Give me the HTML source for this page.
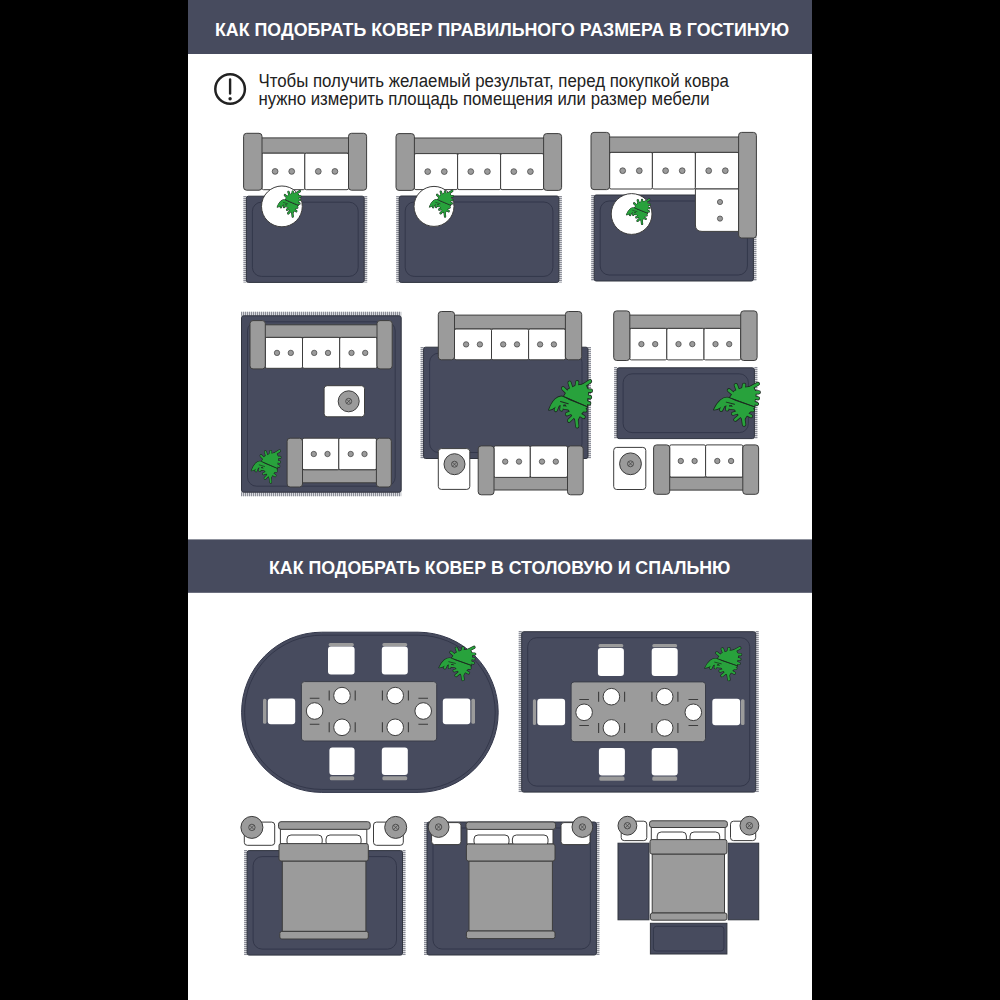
<!DOCTYPE html>
<html><head><meta charset="utf-8"><title>Ковер</title>
<style>html,body{margin:0;padding:0;background:#000;width:1000px;height:1000px;overflow:hidden;font-family:"Liberation Sans",sans-serif;} svg{display:block;}</style>
</head><body>
<svg width="1000" height="1000" viewBox="0 0 1000 1000"><rect x="0" y="0" width="1000" height="1000" fill="#000"/>
<rect x="188" y="0" width="624" height="1000" fill="#fff"/>
<rect x="188" y="0" width="624" height="54" fill="#474b5e"/>
<text x="215" y="35.6" textLength="574" lengthAdjust="spacingAndGlyphs" font-family="Liberation Sans" font-weight="bold" font-size="17.5" fill="#fff">КАК ПОДОБРАТЬ КОВЕР ПРАВИЛЬНОГО РАЗМЕРА В ГОСТИНУЮ</text>
<circle cx="230.1" cy="89" r="14.8" fill="none" stroke="#222" stroke-width="2.5"/>
<rect x="228.9" y="78.2" width="2.4" height="16.6" rx="1.2" fill="#222"/>
<circle cx="230.1" cy="98.8" r="1.7" fill="#222"/>
<text x="258.4" y="86.8" textLength="470.6" lengthAdjust="spacingAndGlyphs" font-family="Liberation Sans" font-size="17.6" fill="#222">Чтобы получить желаемый результат, перед покупкой ковра</text>
<text x="258.4" y="104.5" textLength="451.2" lengthAdjust="spacingAndGlyphs" font-family="Liberation Sans" font-size="17.6" fill="#222">нужно измерить площадь помещения или размер мебели</text>
<rect x="243.4" y="196.2" width="123.8" height="86.2" fill="#d8d9dd"/>
<path d="M244.9 196V282.4M365.7 196V282.4" stroke="#8c8e98" stroke-width="3" stroke-dasharray="1 1"/>
<rect x="246.4" y="196.2" width="117.8" height="86.2" fill="#474b5e" rx="2" stroke="#30343f" stroke-width="1"/>
<rect x="252.4" y="202.2" width="105.8" height="74.2" fill="none" rx="9" stroke="#33374a" stroke-width="1"/>
<rect x="261.0" y="137.9" width="88.5" height="15.3" fill="#9b9b9b" stroke="#3d3d3d" stroke-width="1"/>
<rect x="262.0" y="153.2" width="42.8" height="36.5" fill="#ffffff" rx="1.5" stroke="#3d3d3d" stroke-width="1"/>
<circle cx="275.1" cy="171.4" r="2.9" fill="#9b9b9b" stroke="#3d3d3d" stroke-width="0.7"/>
<circle cx="291.7" cy="171.4" r="2.9" fill="#9b9b9b" stroke="#3d3d3d" stroke-width="0.7"/>
<rect x="304.8" y="153.2" width="43.7" height="36.5" fill="#ffffff" rx="1.5" stroke="#3d3d3d" stroke-width="1"/>
<circle cx="318.3" cy="171.4" r="2.9" fill="#9b9b9b" stroke="#3d3d3d" stroke-width="0.7"/>
<circle cx="334.9" cy="171.4" r="2.9" fill="#9b9b9b" stroke="#3d3d3d" stroke-width="0.7"/>
<rect x="243.6" y="133.3" width="18.4" height="56.9" fill="#9b9b9b" rx="3" stroke="#3d3d3d" stroke-width="1"/>
<rect x="348.5" y="133.3" width="18.1" height="56.9" fill="#9b9b9b" rx="3" stroke="#3d3d3d" stroke-width="1"/>
<circle cx="281.9" cy="206.4" r="20.4" fill="#ffffff" stroke="#3d3d3d" stroke-width="1"/>
<g transform="translate(276.8,190.6) scale(0.238,0.264)"><g stroke-linecap="round" stroke-linejoin="round"><path d="M46 28 L34 17 M55 22 L49 5 M65 17 L67 4 M78 13 L97 2 M84 22 L99 22 M82 33 L97 36 M80 44 L95 49 M22 52 L17 63 M32 49 L30 62 M52 60 L36 58 M55 68 L43 72 M58 77 L48 86 M70 62 L86 64 M69 71 L82 78 M64 76 L67 98" stroke="#1c2b20" stroke-width="9.5" fill="none"/><path d="M36 34 L46 19 L64 11 L86 8 L93 22 L90 44 L90 55 Z" fill="#1c2b20" stroke="#1c2b20" stroke-width="3.5"/><path d="M46 41 Q30 28 16 40 Q7 48 1 63 Q10 62 18 56 Q32 50 48 51 Z" fill="#1c2b20" stroke="#1c2b20" stroke-width="3.5"/><path d="M38 38 L90 57 L76 72 L66 88 L54 74 L40 52 Z" fill="#1c2b20" stroke="#1c2b20" stroke-width="3.5"/><path d="M46 28 L34 17 M55 22 L49 5 M65 17 L67 4 M78 13 L97 2 M84 22 L99 22 M82 33 L97 36 M80 44 L95 49 M22 52 L17 63 M32 49 L30 62 M52 60 L36 58 M55 68 L43 72 M58 77 L48 86 M70 62 L86 64 M69 71 L82 78 M64 76 L67 98" stroke="#28a23c" stroke-width="6" fill="none"/><path d="M36 34 L46 19 L64 11 L86 8 L93 22 L90 44 L90 55 Z" fill="#28a23c"/><path d="M46 41 Q30 28 16 40 Q7 48 1 63 Q10 62 18 56 Q32 50 48 51 Z" fill="#28a23c"/><path d="M38 38 L90 57 L76 72 L66 88 L54 74 L40 52 Z" fill="#28a23c"/><path d="M36 35 L90 56 M28 45 L46 50" stroke="#1c2b20" stroke-width="2.2" fill="none"/></g></g>
<rect x="396.2" y="196.0" width="165.7" height="86.4" fill="#d8d9dd"/>
<path d="M397.7 196V282.4M560.4 196V282.4" stroke="#8c8e98" stroke-width="3" stroke-dasharray="1 1"/>
<rect x="399.2" y="196.0" width="159.7" height="86.4" fill="#474b5e" rx="2" stroke="#30343f" stroke-width="1"/>
<rect x="405.2" y="202.0" width="147.7" height="74.4" fill="none" rx="9" stroke="#33374a" stroke-width="1"/>
<rect x="413.4" y="138.0" width="131.2" height="15.6" fill="#9b9b9b" stroke="#3d3d3d" stroke-width="1"/>
<rect x="414.4" y="153.6" width="43.2" height="36.0" fill="#ffffff" rx="1.5" stroke="#3d3d3d" stroke-width="1"/>
<circle cx="427.7" cy="171.6" r="2.9" fill="#9b9b9b" stroke="#3d3d3d" stroke-width="0.7"/>
<circle cx="444.3" cy="171.6" r="2.9" fill="#9b9b9b" stroke="#3d3d3d" stroke-width="0.7"/>
<rect x="457.6" y="153.6" width="43.0" height="36.0" fill="#ffffff" rx="1.5" stroke="#3d3d3d" stroke-width="1"/>
<circle cx="470.8" cy="171.6" r="2.9" fill="#9b9b9b" stroke="#3d3d3d" stroke-width="0.7"/>
<circle cx="487.4" cy="171.6" r="2.9" fill="#9b9b9b" stroke="#3d3d3d" stroke-width="0.7"/>
<rect x="500.6" y="153.6" width="43.0" height="36.0" fill="#ffffff" rx="1.5" stroke="#3d3d3d" stroke-width="1"/>
<circle cx="513.8" cy="171.6" r="2.9" fill="#9b9b9b" stroke="#3d3d3d" stroke-width="0.7"/>
<circle cx="530.4" cy="171.6" r="2.9" fill="#9b9b9b" stroke="#3d3d3d" stroke-width="0.7"/>
<rect x="396.0" y="133.6" width="18.4" height="56.8" fill="#9b9b9b" rx="3" stroke="#3d3d3d" stroke-width="1"/>
<rect x="543.6" y="133.6" width="18.0" height="56.8" fill="#9b9b9b" rx="3" stroke="#3d3d3d" stroke-width="1"/>
<circle cx="434.0" cy="206.4" r="20.0" fill="#ffffff" stroke="#3d3d3d" stroke-width="1"/>
<g transform="translate(429.0,190.4) scale(0.240,0.266)"><g stroke-linecap="round" stroke-linejoin="round"><path d="M46 28 L34 17 M55 22 L49 5 M65 17 L67 4 M78 13 L97 2 M84 22 L99 22 M82 33 L97 36 M80 44 L95 49 M22 52 L17 63 M32 49 L30 62 M52 60 L36 58 M55 68 L43 72 M58 77 L48 86 M70 62 L86 64 M69 71 L82 78 M64 76 L67 98" stroke="#1c2b20" stroke-width="9.5" fill="none"/><path d="M36 34 L46 19 L64 11 L86 8 L93 22 L90 44 L90 55 Z" fill="#1c2b20" stroke="#1c2b20" stroke-width="3.5"/><path d="M46 41 Q30 28 16 40 Q7 48 1 63 Q10 62 18 56 Q32 50 48 51 Z" fill="#1c2b20" stroke="#1c2b20" stroke-width="3.5"/><path d="M38 38 L90 57 L76 72 L66 88 L54 74 L40 52 Z" fill="#1c2b20" stroke="#1c2b20" stroke-width="3.5"/><path d="M46 28 L34 17 M55 22 L49 5 M65 17 L67 4 M78 13 L97 2 M84 22 L99 22 M82 33 L97 36 M80 44 L95 49 M22 52 L17 63 M32 49 L30 62 M52 60 L36 58 M55 68 L43 72 M58 77 L48 86 M70 62 L86 64 M69 71 L82 78 M64 76 L67 98" stroke="#28a23c" stroke-width="6" fill="none"/><path d="M36 34 L46 19 L64 11 L86 8 L93 22 L90 44 L90 55 Z" fill="#28a23c"/><path d="M46 41 Q30 28 16 40 Q7 48 1 63 Q10 62 18 56 Q32 50 48 51 Z" fill="#28a23c"/><path d="M38 38 L90 57 L76 72 L66 88 L54 74 L40 52 Z" fill="#28a23c"/><path d="M36 35 L90 56 M28 45 L46 50" stroke="#1c2b20" stroke-width="2.2" fill="none"/></g></g>
<rect x="591.2" y="195.0" width="165.2" height="86.0" fill="#d8d9dd"/>
<path d="M592.7 195V281.0M754.9 195V281.0" stroke="#8c8e98" stroke-width="3" stroke-dasharray="1 1"/>
<rect x="594.2" y="195.0" width="159.2" height="86.0" fill="#474b5e" rx="2" stroke="#30343f" stroke-width="1"/>
<rect x="600.2" y="201.0" width="147.2" height="74.0" fill="none" rx="9" stroke="#33374a" stroke-width="1"/>
<rect x="608.6" y="137.0" width="131.0" height="15.4" fill="#9b9b9b" stroke="#3d3d3d" stroke-width="1"/>
<rect x="609.6" y="152.4" width="42.8" height="36.6" fill="#ffffff" rx="1.5" stroke="#3d3d3d" stroke-width="1"/>
<circle cx="622.7" cy="170.7" r="2.9" fill="#9b9b9b" stroke="#3d3d3d" stroke-width="0.7"/>
<circle cx="639.3" cy="170.7" r="2.9" fill="#9b9b9b" stroke="#3d3d3d" stroke-width="0.7"/>
<rect x="652.4" y="152.4" width="43.0" height="36.6" fill="#ffffff" rx="1.5" stroke="#3d3d3d" stroke-width="1"/>
<circle cx="665.6" cy="170.7" r="2.9" fill="#9b9b9b" stroke="#3d3d3d" stroke-width="0.7"/>
<circle cx="682.2" cy="170.7" r="2.9" fill="#9b9b9b" stroke="#3d3d3d" stroke-width="0.7"/>
<rect x="695.4" y="152.4" width="43.2" height="36.6" fill="#ffffff" rx="1.5" stroke="#3d3d3d" stroke-width="1"/>
<circle cx="708.7" cy="170.7" r="2.9" fill="#9b9b9b" stroke="#3d3d3d" stroke-width="0.7"/>
<circle cx="725.3" cy="170.7" r="2.9" fill="#9b9b9b" stroke="#3d3d3d" stroke-width="0.7"/>
<path d="M695.4 189 H738.6 V231.4 H702 Q695.4 231.4 695.4 225 Z" fill="#fff" stroke="#3d3d3d" stroke-width="1"/>
<circle cx="720.0" cy="202.0" r="2.6" fill="#9b9b9b" stroke="#3d3d3d" stroke-width="0.7"/>
<circle cx="720.0" cy="218.6" r="2.6" fill="#9b9b9b" stroke="#3d3d3d" stroke-width="0.7"/>
<rect x="591.0" y="132.4" width="18.6" height="57.2" fill="#9b9b9b" rx="3" stroke="#3d3d3d" stroke-width="1"/>
<rect x="738.6" y="132.4" width="17.8" height="105.6" fill="#9b9b9b" rx="3" stroke="#3d3d3d" stroke-width="1"/>
<circle cx="631.6" cy="214.0" r="20.4" fill="#ffffff" stroke="#3d3d3d" stroke-width="1"/>
<g transform="translate(626.0,199.0) scale(0.240,0.254)"><g stroke-linecap="round" stroke-linejoin="round"><path d="M46 28 L34 17 M55 22 L49 5 M65 17 L67 4 M78 13 L97 2 M84 22 L99 22 M82 33 L97 36 M80 44 L95 49 M22 52 L17 63 M32 49 L30 62 M52 60 L36 58 M55 68 L43 72 M58 77 L48 86 M70 62 L86 64 M69 71 L82 78 M64 76 L67 98" stroke="#1c2b20" stroke-width="9.5" fill="none"/><path d="M36 34 L46 19 L64 11 L86 8 L93 22 L90 44 L90 55 Z" fill="#1c2b20" stroke="#1c2b20" stroke-width="3.5"/><path d="M46 41 Q30 28 16 40 Q7 48 1 63 Q10 62 18 56 Q32 50 48 51 Z" fill="#1c2b20" stroke="#1c2b20" stroke-width="3.5"/><path d="M38 38 L90 57 L76 72 L66 88 L54 74 L40 52 Z" fill="#1c2b20" stroke="#1c2b20" stroke-width="3.5"/><path d="M46 28 L34 17 M55 22 L49 5 M65 17 L67 4 M78 13 L97 2 M84 22 L99 22 M82 33 L97 36 M80 44 L95 49 M22 52 L17 63 M32 49 L30 62 M52 60 L36 58 M55 68 L43 72 M58 77 L48 86 M70 62 L86 64 M69 71 L82 78 M64 76 L67 98" stroke="#28a23c" stroke-width="6" fill="none"/><path d="M36 34 L46 19 L64 11 L86 8 L93 22 L90 44 L90 55 Z" fill="#28a23c"/><path d="M46 41 Q30 28 16 40 Q7 48 1 63 Q10 62 18 56 Q32 50 48 51 Z" fill="#28a23c"/><path d="M38 38 L90 57 L76 72 L66 88 L54 74 L40 52 Z" fill="#28a23c"/><path d="M36 35 L90 56 M28 45 L46 50" stroke="#1c2b20" stroke-width="2.2" fill="none"/></g></g>
<rect x="241.5" y="311.8" width="159.7" height="184.4" fill="#d8d9dd"/>
<path d="M241 313.8H401.2M241 494.2H401.2" stroke="#8c8e98" stroke-width="4" stroke-dasharray="1 1"/>
<rect x="241.5" y="315.8" width="159.7" height="176.4" fill="#474b5e" rx="2" stroke="#30343f" stroke-width="1"/>
<rect x="247.5" y="321.8" width="147.7" height="164.4" fill="none" rx="9" stroke="#33374a" stroke-width="1"/>
<rect x="264.3" y="324.8" width="113.7" height="12.6" fill="#9b9b9b" stroke="#3d3d3d" stroke-width="1"/>
<rect x="265.3" y="337.4" width="37.2" height="30.9" fill="#ffffff" rx="1.5" stroke="#3d3d3d" stroke-width="1"/>
<circle cx="277.0" cy="352.9" r="2.7" fill="#9b9b9b" stroke="#3d3d3d" stroke-width="0.7"/>
<circle cx="290.8" cy="352.9" r="2.7" fill="#9b9b9b" stroke="#3d3d3d" stroke-width="0.7"/>
<rect x="302.5" y="337.4" width="37.2" height="30.9" fill="#ffffff" rx="1.5" stroke="#3d3d3d" stroke-width="1"/>
<circle cx="314.2" cy="352.9" r="2.7" fill="#9b9b9b" stroke="#3d3d3d" stroke-width="0.7"/>
<circle cx="328.0" cy="352.9" r="2.7" fill="#9b9b9b" stroke="#3d3d3d" stroke-width="0.7"/>
<rect x="339.7" y="337.4" width="37.3" height="30.9" fill="#ffffff" rx="1.5" stroke="#3d3d3d" stroke-width="1"/>
<circle cx="351.5" cy="352.9" r="2.7" fill="#9b9b9b" stroke="#3d3d3d" stroke-width="0.7"/>
<circle cx="365.2" cy="352.9" r="2.7" fill="#9b9b9b" stroke="#3d3d3d" stroke-width="0.7"/>
<rect x="250.0" y="320.6" width="15.3" height="48.3" fill="#9b9b9b" rx="3" stroke="#3d3d3d" stroke-width="1"/>
<rect x="377.0" y="320.6" width="15.2" height="48.3" fill="#9b9b9b" rx="3" stroke="#3d3d3d" stroke-width="1"/>
<rect x="301.5" y="469.7" width="76.0" height="13.1" fill="#9b9b9b" stroke="#3d3d3d" stroke-width="1"/>
<rect x="302.5" y="438.2" width="36.3" height="31.5" fill="#ffffff" rx="1.5" stroke="#3d3d3d" stroke-width="1"/>
<circle cx="313.8" cy="454.0" r="2.7" fill="#9b9b9b" stroke="#3d3d3d" stroke-width="0.7"/>
<circle cx="327.5" cy="454.0" r="2.7" fill="#9b9b9b" stroke="#3d3d3d" stroke-width="0.7"/>
<rect x="338.8" y="438.2" width="37.6" height="31.5" fill="#ffffff" rx="1.5" stroke="#3d3d3d" stroke-width="1"/>
<circle cx="350.7" cy="454.0" r="2.7" fill="#9b9b9b" stroke="#3d3d3d" stroke-width="0.7"/>
<circle cx="364.5" cy="454.0" r="2.7" fill="#9b9b9b" stroke="#3d3d3d" stroke-width="0.7"/>
<rect x="287.1" y="438.2" width="15.4" height="48.8" fill="#9b9b9b" rx="3" stroke="#3d3d3d" stroke-width="1"/>
<rect x="376.4" y="438.2" width="14.9" height="48.8" fill="#9b9b9b" rx="3" stroke="#3d3d3d" stroke-width="1"/>
<rect x="324.1" y="385.7" width="40.4" height="31.1" fill="#ffffff" rx="3" stroke="#3d3d3d" stroke-width="1"/>
<circle cx="348.7" cy="401.3" r="10.5" fill="#9b9b9b" stroke="#3d3d3d" stroke-width="1"/>
<circle cx="348.7" cy="401.3" r="3.0" fill="none" stroke="#3d3d3d" stroke-width="0.8"/>
<path d="M346.7 399.3L350.7 403.3M350.7 399.3L346.7 403.3" stroke="#3d3d3d" stroke-width="0.7"/>
<g transform="translate(251.0,450.2) scale(0.294,0.326)"><g stroke-linecap="round" stroke-linejoin="round"><path d="M46 28 L34 17 M55 22 L49 5 M65 17 L67 4 M78 13 L97 2 M84 22 L99 22 M82 33 L97 36 M80 44 L95 49 M22 52 L17 63 M32 49 L30 62 M52 60 L36 58 M55 68 L43 72 M58 77 L48 86 M70 62 L86 64 M69 71 L82 78 M64 76 L67 98" stroke="#1c2b20" stroke-width="9.5" fill="none"/><path d="M36 34 L46 19 L64 11 L86 8 L93 22 L90 44 L90 55 Z" fill="#1c2b20" stroke="#1c2b20" stroke-width="3.5"/><path d="M46 41 Q30 28 16 40 Q7 48 1 63 Q10 62 18 56 Q32 50 48 51 Z" fill="#1c2b20" stroke="#1c2b20" stroke-width="3.5"/><path d="M38 38 L90 57 L76 72 L66 88 L54 74 L40 52 Z" fill="#1c2b20" stroke="#1c2b20" stroke-width="3.5"/><path d="M46 28 L34 17 M55 22 L49 5 M65 17 L67 4 M78 13 L97 2 M84 22 L99 22 M82 33 L97 36 M80 44 L95 49 M22 52 L17 63 M32 49 L30 62 M52 60 L36 58 M55 68 L43 72 M58 77 L48 86 M70 62 L86 64 M69 71 L82 78 M64 76 L67 98" stroke="#28a23c" stroke-width="6" fill="none"/><path d="M36 34 L46 19 L64 11 L86 8 L93 22 L90 44 L90 55 Z" fill="#28a23c"/><path d="M46 41 Q30 28 16 40 Q7 48 1 63 Q10 62 18 56 Q32 50 48 51 Z" fill="#28a23c"/><path d="M38 38 L90 57 L76 72 L66 88 L54 74 L40 52 Z" fill="#28a23c"/><path d="M36 35 L90 56 M28 45 L46 50" stroke="#1c2b20" stroke-width="2.2" fill="none"/></g></g>
<rect x="420.6" y="347.2" width="170.4" height="111.3" fill="#d8d9dd"/>
<path d="M422.1 347V458.5M589.5 347V458.5" stroke="#8c8e98" stroke-width="3" stroke-dasharray="1 1"/>
<rect x="423.6" y="347.2" width="164.4" height="111.3" fill="#474b5e" rx="2" stroke="#30343f" stroke-width="1"/>
<rect x="429.6" y="353.2" width="152.4" height="99.3" fill="none" rx="9" stroke="#33374a" stroke-width="1"/>
<rect x="453.5" y="315.1" width="112.9" height="13.9" fill="#9b9b9b" stroke="#3d3d3d" stroke-width="1"/>
<rect x="454.5" y="329.0" width="37.0" height="30.8" fill="#ffffff" rx="1.5" stroke="#3d3d3d" stroke-width="1"/>
<circle cx="466.1" cy="344.4" r="2.7" fill="#9b9b9b" stroke="#3d3d3d" stroke-width="0.7"/>
<circle cx="479.9" cy="344.4" r="2.7" fill="#9b9b9b" stroke="#3d3d3d" stroke-width="0.7"/>
<rect x="491.5" y="329.0" width="37.1" height="30.8" fill="#ffffff" rx="1.5" stroke="#3d3d3d" stroke-width="1"/>
<circle cx="503.2" cy="344.4" r="2.7" fill="#9b9b9b" stroke="#3d3d3d" stroke-width="0.7"/>
<circle cx="517.0" cy="344.4" r="2.7" fill="#9b9b9b" stroke="#3d3d3d" stroke-width="0.7"/>
<rect x="528.6" y="329.0" width="36.8" height="30.8" fill="#ffffff" rx="1.5" stroke="#3d3d3d" stroke-width="1"/>
<circle cx="540.1" cy="344.4" r="2.7" fill="#9b9b9b" stroke="#3d3d3d" stroke-width="0.7"/>
<circle cx="553.9" cy="344.4" r="2.7" fill="#9b9b9b" stroke="#3d3d3d" stroke-width="0.7"/>
<rect x="438.3" y="311.5" width="16.2" height="48.3" fill="#9b9b9b" rx="3" stroke="#3d3d3d" stroke-width="1"/>
<rect x="565.4" y="311.5" width="16.3" height="48.3" fill="#9b9b9b" rx="3" stroke="#3d3d3d" stroke-width="1"/>
<rect x="493.0" y="477.4" width="75.5" height="12.6" fill="#9b9b9b" stroke="#3d3d3d" stroke-width="1"/>
<rect x="494.0" y="445.9" width="36.3" height="31.5" fill="#ffffff" rx="1.5" stroke="#3d3d3d" stroke-width="1"/>
<circle cx="505.2" cy="461.6" r="2.7" fill="#9b9b9b" stroke="#3d3d3d" stroke-width="0.7"/>
<circle cx="519.0" cy="461.6" r="2.7" fill="#9b9b9b" stroke="#3d3d3d" stroke-width="0.7"/>
<rect x="530.3" y="445.9" width="37.2" height="31.5" fill="#ffffff" rx="1.5" stroke="#3d3d3d" stroke-width="1"/>
<circle cx="542.0" cy="461.6" r="2.7" fill="#9b9b9b" stroke="#3d3d3d" stroke-width="0.7"/>
<circle cx="555.8" cy="461.6" r="2.7" fill="#9b9b9b" stroke="#3d3d3d" stroke-width="0.7"/>
<rect x="478.2" y="445.9" width="15.8" height="48.9" fill="#9b9b9b" rx="3" stroke="#3d3d3d" stroke-width="1"/>
<rect x="567.5" y="445.9" width="15.7" height="48.9" fill="#9b9b9b" rx="3" stroke="#3d3d3d" stroke-width="1"/>
<rect x="438.3" y="448.6" width="31.5" height="40.8" fill="#ffffff" rx="3" stroke="#3d3d3d" stroke-width="1"/>
<circle cx="454.5" cy="464.2" r="10.5" fill="#9b9b9b" stroke="#3d3d3d" stroke-width="1"/>
<circle cx="454.5" cy="464.2" r="3.0" fill="none" stroke="#3d3d3d" stroke-width="0.8"/>
<path d="M452.5 462.2L456.5 466.2M456.5 462.2L452.5 466.2" stroke="#3d3d3d" stroke-width="0.7"/>
<g transform="translate(548.5,380.4) scale(0.429,0.468)"><g stroke-linecap="round" stroke-linejoin="round"><path d="M46 28 L34 17 M55 22 L49 5 M65 17 L67 4 M78 13 L97 2 M84 22 L99 22 M82 33 L97 36 M80 44 L95 49 M22 52 L17 63 M32 49 L30 62 M52 60 L36 58 M55 68 L43 72 M58 77 L48 86 M70 62 L86 64 M69 71 L82 78 M64 76 L67 98" stroke="#1c2b20" stroke-width="9.5" fill="none"/><path d="M36 34 L46 19 L64 11 L86 8 L93 22 L90 44 L90 55 Z" fill="#1c2b20" stroke="#1c2b20" stroke-width="3.5"/><path d="M46 41 Q30 28 16 40 Q7 48 1 63 Q10 62 18 56 Q32 50 48 51 Z" fill="#1c2b20" stroke="#1c2b20" stroke-width="3.5"/><path d="M38 38 L90 57 L76 72 L66 88 L54 74 L40 52 Z" fill="#1c2b20" stroke="#1c2b20" stroke-width="3.5"/><path d="M46 28 L34 17 M55 22 L49 5 M65 17 L67 4 M78 13 L97 2 M84 22 L99 22 M82 33 L97 36 M80 44 L95 49 M22 52 L17 63 M32 49 L30 62 M52 60 L36 58 M55 68 L43 72 M58 77 L48 86 M70 62 L86 64 M69 71 L82 78 M64 76 L67 98" stroke="#28a23c" stroke-width="6" fill="none"/><path d="M36 34 L46 19 L64 11 L86 8 L93 22 L90 44 L90 55 Z" fill="#28a23c"/><path d="M46 41 Q30 28 16 40 Q7 48 1 63 Q10 62 18 56 Q32 50 48 51 Z" fill="#28a23c"/><path d="M38 38 L90 57 L76 72 L66 88 L54 74 L40 52 Z" fill="#28a23c"/><path d="M36 35 L90 56 M28 45 L46 50" stroke="#1c2b20" stroke-width="2.2" fill="none"/></g></g>
<rect x="614.1" y="367.8" width="143.3" height="70.8" fill="#d8d9dd"/>
<path d="M615.6 367V438.6M755.9 367V438.6" stroke="#8c8e98" stroke-width="3" stroke-dasharray="1 1"/>
<rect x="617.1" y="367.8" width="137.3" height="70.8" fill="#474b5e" rx="2" stroke="#30343f" stroke-width="1"/>
<rect x="623.1" y="373.8" width="125.3" height="58.8" fill="none" rx="9" stroke="#33374a" stroke-width="1"/>
<rect x="628.8" y="315.1" width="112.9" height="13.3" fill="#9b9b9b" stroke="#3d3d3d" stroke-width="1"/>
<rect x="629.8" y="328.4" width="37.0" height="31.5" fill="#ffffff" rx="1.5" stroke="#3d3d3d" stroke-width="1"/>
<circle cx="641.4" cy="344.1" r="2.7" fill="#9b9b9b" stroke="#3d3d3d" stroke-width="0.7"/>
<circle cx="655.2" cy="344.1" r="2.7" fill="#9b9b9b" stroke="#3d3d3d" stroke-width="0.7"/>
<rect x="666.8" y="328.4" width="37.2" height="31.5" fill="#ffffff" rx="1.5" stroke="#3d3d3d" stroke-width="1"/>
<circle cx="678.5" cy="344.1" r="2.7" fill="#9b9b9b" stroke="#3d3d3d" stroke-width="0.7"/>
<circle cx="692.3" cy="344.1" r="2.7" fill="#9b9b9b" stroke="#3d3d3d" stroke-width="0.7"/>
<rect x="704.0" y="328.4" width="36.7" height="31.5" fill="#ffffff" rx="1.5" stroke="#3d3d3d" stroke-width="1"/>
<circle cx="715.5" cy="344.1" r="2.7" fill="#9b9b9b" stroke="#3d3d3d" stroke-width="0.7"/>
<circle cx="729.2" cy="344.1" r="2.7" fill="#9b9b9b" stroke="#3d3d3d" stroke-width="0.7"/>
<rect x="613.7" y="310.9" width="16.1" height="49.6" fill="#9b9b9b" rx="3" stroke="#3d3d3d" stroke-width="1"/>
<rect x="740.7" y="310.9" width="16.4" height="49.6" fill="#9b9b9b" rx="3" stroke="#3d3d3d" stroke-width="1"/>
<rect x="668.7" y="477.1" width="75.1" height="13.0" fill="#9b9b9b" stroke="#3d3d3d" stroke-width="1"/>
<rect x="669.7" y="444.9" width="35.9" height="32.2" fill="#ffffff" rx="1.5" stroke="#3d3d3d" stroke-width="1"/>
<circle cx="680.8" cy="461.0" r="2.7" fill="#9b9b9b" stroke="#3d3d3d" stroke-width="0.7"/>
<circle cx="694.6" cy="461.0" r="2.7" fill="#9b9b9b" stroke="#3d3d3d" stroke-width="0.7"/>
<rect x="705.6" y="444.9" width="37.2" height="32.2" fill="#ffffff" rx="1.5" stroke="#3d3d3d" stroke-width="1"/>
<circle cx="717.3" cy="461.0" r="2.7" fill="#9b9b9b" stroke="#3d3d3d" stroke-width="0.7"/>
<circle cx="731.1" cy="461.0" r="2.7" fill="#9b9b9b" stroke="#3d3d3d" stroke-width="0.7"/>
<rect x="653.6" y="444.9" width="16.1" height="49.4" fill="#9b9b9b" rx="3" stroke="#3d3d3d" stroke-width="1"/>
<rect x="742.8" y="444.9" width="15.8" height="49.4" fill="#9b9b9b" rx="3" stroke="#3d3d3d" stroke-width="1"/>
<rect x="613.7" y="447.4" width="32.1" height="42.1" fill="#ffffff" rx="3" stroke="#3d3d3d" stroke-width="1"/>
<circle cx="630.5" cy="463.8" r="10.9" fill="#9b9b9b" stroke="#3d3d3d" stroke-width="1"/>
<circle cx="630.5" cy="463.8" r="3.0" fill="none" stroke="#3d3d3d" stroke-width="0.8"/>
<path d="M628.5 461.8L632.5 465.8M632.5 461.8L628.5 465.8" stroke="#3d3d3d" stroke-width="0.7"/>
<g transform="translate(713.4,383.0) scale(0.458,0.426)"><g stroke-linecap="round" stroke-linejoin="round"><path d="M46 28 L34 17 M55 22 L49 5 M65 17 L67 4 M78 13 L97 2 M84 22 L99 22 M82 33 L97 36 M80 44 L95 49 M22 52 L17 63 M32 49 L30 62 M52 60 L36 58 M55 68 L43 72 M58 77 L48 86 M70 62 L86 64 M69 71 L82 78 M64 76 L67 98" stroke="#1c2b20" stroke-width="9.5" fill="none"/><path d="M36 34 L46 19 L64 11 L86 8 L93 22 L90 44 L90 55 Z" fill="#1c2b20" stroke="#1c2b20" stroke-width="3.5"/><path d="M46 41 Q30 28 16 40 Q7 48 1 63 Q10 62 18 56 Q32 50 48 51 Z" fill="#1c2b20" stroke="#1c2b20" stroke-width="3.5"/><path d="M38 38 L90 57 L76 72 L66 88 L54 74 L40 52 Z" fill="#1c2b20" stroke="#1c2b20" stroke-width="3.5"/><path d="M46 28 L34 17 M55 22 L49 5 M65 17 L67 4 M78 13 L97 2 M84 22 L99 22 M82 33 L97 36 M80 44 L95 49 M22 52 L17 63 M32 49 L30 62 M52 60 L36 58 M55 68 L43 72 M58 77 L48 86 M70 62 L86 64 M69 71 L82 78 M64 76 L67 98" stroke="#28a23c" stroke-width="6" fill="none"/><path d="M36 34 L46 19 L64 11 L86 8 L93 22 L90 44 L90 55 Z" fill="#28a23c"/><path d="M46 41 Q30 28 16 40 Q7 48 1 63 Q10 62 18 56 Q32 50 48 51 Z" fill="#28a23c"/><path d="M38 38 L90 57 L76 72 L66 88 L54 74 L40 52 Z" fill="#28a23c"/><path d="M36 35 L90 56 M28 45 L46 50" stroke="#1c2b20" stroke-width="2.2" fill="none"/></g></g>
<rect x="188" y="539.4" width="624" height="53.4" fill="#474b5e"/>
<text x="269" y="573.6" textLength="461.4" lengthAdjust="spacingAndGlyphs" font-family="Liberation Sans" font-weight="bold" font-size="17.5" fill="#fff">КАК ПОДОБРАТЬ КОВЕР В СТОЛОВУЮ И СПАЛЬНЮ</text>
<rect x="241.6" y="632.2" width="256.6" height="160.2" rx="80.1" fill="#474b5e" stroke="#33374a" stroke-width="1"/>
<rect x="244.6" y="635.2" width="250.6" height="154.2" rx="77.1" fill="none" stroke="#33374a" stroke-width="1"/>
<rect x="328.6" y="643.0" width="25.2" height="3.2" fill="#9b9b9b" rx="1.5"/>
<rect x="328.0" y="646.6" width="26.6" height="28.0" fill="#ffffff" rx="3"/>
<rect x="382.4" y="643.0" width="24.8" height="3.2" fill="#9b9b9b" rx="1.5"/>
<rect x="381.8" y="646.6" width="26.0" height="28.0" fill="#ffffff" rx="3"/>
<rect x="329.8" y="776.3" width="24.4" height="3.9" fill="#9b9b9b" rx="1.5"/>
<rect x="329.4" y="747.4" width="25.2" height="27.5" fill="#ffffff" rx="3"/>
<rect x="382.4" y="776.3" width="24.8" height="3.9" fill="#9b9b9b" rx="1.5"/>
<rect x="381.8" y="747.4" width="26.0" height="27.5" fill="#ffffff" rx="3"/>
<rect x="263.0" y="698.8" width="3.4" height="25.0" fill="#9b9b9b" rx="1.5"/>
<rect x="267.8" y="698.4" width="27.4" height="25.8" fill="#ffffff" rx="3"/>
<rect x="471.4" y="698.8" width="3.6" height="25.0" fill="#9b9b9b" rx="1.5"/>
<rect x="442.8" y="698.4" width="27.5" height="25.8" fill="#ffffff" rx="3"/>
<rect x="301.4" y="681.6" width="135.3" height="59.4" fill="#9b9b9b" rx="3" stroke="#3a3d48" stroke-width="1"/>
<circle cx="342.0" cy="695.6" r="8.3" fill="#ffffff" stroke="#3d3d3d" stroke-width="1"/>
<path d="M329.2 690.6V700.6M355.2 690.6V700.6" stroke="#3d3d3d" stroke-width="1.1"/>
<circle cx="395.2" cy="695.6" r="8.3" fill="#ffffff" stroke="#3d3d3d" stroke-width="1"/>
<path d="M382.4 690.6V700.6M408.4 690.6V700.6" stroke="#3d3d3d" stroke-width="1.1"/>
<circle cx="342.0" cy="727.3" r="8.3" fill="#ffffff" stroke="#3d3d3d" stroke-width="1"/>
<path d="M329.2 722.3V732.3M355.2 722.3V732.3" stroke="#3d3d3d" stroke-width="1.1"/>
<circle cx="395.2" cy="727.3" r="8.3" fill="#ffffff" stroke="#3d3d3d" stroke-width="1"/>
<path d="M382.4 722.3V732.3M408.4 722.3V732.3" stroke="#3d3d3d" stroke-width="1.1"/>
<circle cx="314.6" cy="711.0" r="8.3" fill="#ffffff" stroke="#3d3d3d" stroke-width="1"/>
<path d="M309.8 698.2H319.4M309.8 724.2H319.4" stroke="#3d3d3d" stroke-width="1.1"/>
<circle cx="423.2" cy="711.0" r="8.3" fill="#ffffff" stroke="#3d3d3d" stroke-width="1"/>
<path d="M418.4 698.2H428.0M418.4 724.2H428.0" stroke="#3d3d3d" stroke-width="1.1"/>
<g transform="translate(438.6,646.6) scale(0.364,0.336)"><g stroke-linecap="round" stroke-linejoin="round"><path d="M46 28 L34 17 M55 22 L49 5 M65 17 L67 4 M78 13 L97 2 M84 22 L99 22 M82 33 L97 36 M80 44 L95 49 M22 52 L17 63 M32 49 L30 62 M52 60 L36 58 M55 68 L43 72 M58 77 L48 86 M70 62 L86 64 M69 71 L82 78 M64 76 L67 98" stroke="#1c2b20" stroke-width="9.5" fill="none"/><path d="M36 34 L46 19 L64 11 L86 8 L93 22 L90 44 L90 55 Z" fill="#1c2b20" stroke="#1c2b20" stroke-width="3.5"/><path d="M46 41 Q30 28 16 40 Q7 48 1 63 Q10 62 18 56 Q32 50 48 51 Z" fill="#1c2b20" stroke="#1c2b20" stroke-width="3.5"/><path d="M38 38 L90 57 L76 72 L66 88 L54 74 L40 52 Z" fill="#1c2b20" stroke="#1c2b20" stroke-width="3.5"/><path d="M46 28 L34 17 M55 22 L49 5 M65 17 L67 4 M78 13 L97 2 M84 22 L99 22 M82 33 L97 36 M80 44 L95 49 M22 52 L17 63 M32 49 L30 62 M52 60 L36 58 M55 68 L43 72 M58 77 L48 86 M70 62 L86 64 M69 71 L82 78 M64 76 L67 98" stroke="#28a23c" stroke-width="6" fill="none"/><path d="M36 34 L46 19 L64 11 L86 8 L93 22 L90 44 L90 55 Z" fill="#28a23c"/><path d="M46 41 Q30 28 16 40 Q7 48 1 63 Q10 62 18 56 Q32 50 48 51 Z" fill="#28a23c"/><path d="M38 38 L90 57 L76 72 L66 88 L54 74 L40 52 Z" fill="#28a23c"/><path d="M36 35 L90 56 M28 45 L46 50" stroke="#1c2b20" stroke-width="2.2" fill="none"/></g></g>
<rect x="518.7" y="631.7" width="240.0" height="160.4" fill="#d8d9dd"/>
<path d="M520.2 631V792.1M757.2 631V792.1" stroke="#8c8e98" stroke-width="3" stroke-dasharray="1 1"/>
<rect x="521.7" y="631.7" width="234.0" height="160.4" fill="#474b5e" rx="2" stroke="#30343f" stroke-width="1"/>
<rect x="527.7" y="637.7" width="222.0" height="148.4" fill="none" rx="9" stroke="#33374a" stroke-width="1"/>
<rect x="598.5" y="643.9" width="24.8" height="3.4" fill="#9b9b9b" rx="1.5"/>
<rect x="597.9" y="648.1" width="26.0" height="27.8" fill="#ffffff" rx="3"/>
<rect x="652.3" y="643.9" width="24.8" height="3.4" fill="#9b9b9b" rx="1.5"/>
<rect x="651.7" y="648.1" width="26.0" height="27.8" fill="#ffffff" rx="3"/>
<rect x="599.3" y="776.5" width="25.2" height="4.2" fill="#9b9b9b" rx="1.5"/>
<rect x="598.9" y="747.9" width="26.0" height="27.6" fill="#ffffff" rx="3"/>
<rect x="652.3" y="776.5" width="24.8" height="4.2" fill="#9b9b9b" rx="1.5"/>
<rect x="651.7" y="747.9" width="26.0" height="27.6" fill="#ffffff" rx="3"/>
<rect x="532.9" y="699.2" width="3.1" height="25.7" fill="#9b9b9b" rx="1.5"/>
<rect x="537.3" y="698.8" width="27.8" height="26.5" fill="#ffffff" rx="3"/>
<rect x="740.9" y="699.2" width="3.6" height="25.7" fill="#9b9b9b" rx="1.5"/>
<rect x="712.3" y="698.8" width="27.8" height="26.5" fill="#ffffff" rx="3"/>
<rect x="571.1" y="681.9" width="134.4" height="59.8" fill="#9b9b9b" rx="3" stroke="#3a3d48" stroke-width="1"/>
<circle cx="611.4" cy="696.7" r="8.3" fill="#ffffff" stroke="#3d3d3d" stroke-width="1"/>
<path d="M598.6 691.7V701.7M624.6 691.7V701.7" stroke="#3d3d3d" stroke-width="1.1"/>
<circle cx="664.7" cy="696.7" r="8.3" fill="#ffffff" stroke="#3d3d3d" stroke-width="1"/>
<path d="M651.9 691.7V701.7M677.9 691.7V701.7" stroke="#3d3d3d" stroke-width="1.1"/>
<circle cx="611.4" cy="727.9" r="8.3" fill="#ffffff" stroke="#3d3d3d" stroke-width="1"/>
<path d="M598.6 722.9V732.9M624.6 722.9V732.9" stroke="#3d3d3d" stroke-width="1.1"/>
<circle cx="664.7" cy="727.9" r="8.3" fill="#ffffff" stroke="#3d3d3d" stroke-width="1"/>
<path d="M651.9 722.9V732.9M677.9 722.9V732.9" stroke="#3d3d3d" stroke-width="1.1"/>
<circle cx="584.1" cy="712.3" r="8.3" fill="#ffffff" stroke="#3d3d3d" stroke-width="1"/>
<path d="M579.3 699.5H588.9M579.3 725.5H588.9" stroke="#3d3d3d" stroke-width="1.1"/>
<circle cx="693.3" cy="712.3" r="8.3" fill="#ffffff" stroke="#3d3d3d" stroke-width="1"/>
<path d="M688.5 699.5H698.1M688.5 725.5H698.1" stroke="#3d3d3d" stroke-width="1.1"/>
<g transform="translate(704.5,647.3) scale(0.364,0.330)"><g stroke-linecap="round" stroke-linejoin="round"><path d="M46 28 L34 17 M55 22 L49 5 M65 17 L67 4 M78 13 L97 2 M84 22 L99 22 M82 33 L97 36 M80 44 L95 49 M22 52 L17 63 M32 49 L30 62 M52 60 L36 58 M55 68 L43 72 M58 77 L48 86 M70 62 L86 64 M69 71 L82 78 M64 76 L67 98" stroke="#1c2b20" stroke-width="9.5" fill="none"/><path d="M36 34 L46 19 L64 11 L86 8 L93 22 L90 44 L90 55 Z" fill="#1c2b20" stroke="#1c2b20" stroke-width="3.5"/><path d="M46 41 Q30 28 16 40 Q7 48 1 63 Q10 62 18 56 Q32 50 48 51 Z" fill="#1c2b20" stroke="#1c2b20" stroke-width="3.5"/><path d="M38 38 L90 57 L76 72 L66 88 L54 74 L40 52 Z" fill="#1c2b20" stroke="#1c2b20" stroke-width="3.5"/><path d="M46 28 L34 17 M55 22 L49 5 M65 17 L67 4 M78 13 L97 2 M84 22 L99 22 M82 33 L97 36 M80 44 L95 49 M22 52 L17 63 M32 49 L30 62 M52 60 L36 58 M55 68 L43 72 M58 77 L48 86 M70 62 L86 64 M69 71 L82 78 M64 76 L67 98" stroke="#28a23c" stroke-width="6" fill="none"/><path d="M36 34 L46 19 L64 11 L86 8 L93 22 L90 44 L90 55 Z" fill="#28a23c"/><path d="M46 41 Q30 28 16 40 Q7 48 1 63 Q10 62 18 56 Q32 50 48 51 Z" fill="#28a23c"/><path d="M38 38 L90 57 L76 72 L66 88 L54 74 L40 52 Z" fill="#28a23c"/><path d="M36 35 L90 56 M28 45 L46 50" stroke="#1c2b20" stroke-width="2.2" fill="none"/></g></g>
<rect x="244.1" y="850.6" width="161.4" height="104.5" fill="#d8d9dd"/>
<path d="M245.6 850V955.1M404.0 850V955.1" stroke="#8c8e98" stroke-width="3" stroke-dasharray="1 1"/>
<rect x="247.1" y="850.6" width="155.4" height="104.5" fill="#474b5e" rx="2" stroke="#30343f" stroke-width="1"/>
<rect x="253.1" y="856.6" width="143.4" height="92.5" fill="none" rx="9" stroke="#33374a" stroke-width="1"/>
<rect x="244.3" y="822.1" width="30.4" height="23.2" fill="#ffffff" rx="3" stroke="#3d3d3d" stroke-width="1"/>
<circle cx="251.9" cy="827.4" r="11.0" fill="#9b9b9b" stroke="#3d3d3d" stroke-width="1"/>
<circle cx="251.9" cy="827.4" r="3.2" fill="none" stroke="#3d3d3d" stroke-width="0.8"/>
<path d="M249.7 825.2L254.1 829.6M254.1 825.2L249.7 829.6" stroke="#3d3d3d" stroke-width="0.7"/>
<rect x="373.5" y="822.1" width="29.8" height="23.2" fill="#ffffff" rx="3" stroke="#3d3d3d" stroke-width="1"/>
<circle cx="395.7" cy="827.4" r="11.0" fill="#9b9b9b" stroke="#3d3d3d" stroke-width="1"/>
<circle cx="395.7" cy="827.4" r="3.2" fill="none" stroke="#3d3d3d" stroke-width="0.8"/>
<path d="M393.5 825.2L397.9 829.6M397.9 825.2L393.5 829.6" stroke="#3d3d3d" stroke-width="0.7"/>
<rect x="280.4" y="829.0" width="86.4" height="15.0" fill="#ffffff" stroke="#3d3d3d" stroke-width="1"/>
<rect x="287.0" y="835.0" width="35.2" height="11.0" fill="#ffffff" rx="4" stroke="#3d3d3d" stroke-width="1"/>
<rect x="326.0" y="835.0" width="35.1" height="11.0" fill="#ffffff" rx="4" stroke="#3d3d3d" stroke-width="1"/>
<rect x="278.5" y="821.7" width="91.7" height="7.6" fill="#9b9b9b" rx="2.5" stroke="#3d3d3d" stroke-width="1"/>
<rect x="282.3" y="861.0" width="83.6" height="70.4" fill="#9b9b9b" stroke="#3d3d3d" stroke-width="1"/>
<rect x="279.0" y="843.6" width="89.3" height="17.4" fill="#9b9b9b" rx="2" stroke="#3d3d3d" stroke-width="1"/>
<rect x="279.8" y="931.4" width="88.5" height="7.6" fill="#9b9b9b" rx="2" stroke="#3d3d3d" stroke-width="1"/>
<rect x="424.0" y="822.0" width="175.4" height="133.0" fill="#d8d9dd"/>
<path d="M425.5 822V955.0M597.9 822V955.0" stroke="#8c8e98" stroke-width="3" stroke-dasharray="1 1"/>
<rect x="427.0" y="822.0" width="169.4" height="133.0" fill="#474b5e" rx="2" stroke="#30343f" stroke-width="1"/>
<rect x="433.0" y="828.0" width="157.4" height="121.0" fill="none" rx="9" stroke="#33374a" stroke-width="1"/>
<rect x="431.6" y="822.6" width="29.4" height="22.0" fill="#ffffff" rx="3" stroke="#3d3d3d" stroke-width="1"/>
<circle cx="438.6" cy="827.0" r="10.4" fill="#9b9b9b" stroke="#3d3d3d" stroke-width="1"/>
<circle cx="438.6" cy="827.0" r="3.2" fill="none" stroke="#3d3d3d" stroke-width="0.8"/>
<path d="M436.4 824.8L440.8 829.2M440.8 824.8L436.4 829.2" stroke="#3d3d3d" stroke-width="0.7"/>
<rect x="561.0" y="822.6" width="29.0" height="22.0" fill="#ffffff" rx="3" stroke="#3d3d3d" stroke-width="1"/>
<circle cx="582.4" cy="827.0" r="10.4" fill="#9b9b9b" stroke="#3d3d3d" stroke-width="1"/>
<circle cx="582.4" cy="827.0" r="3.2" fill="none" stroke="#3d3d3d" stroke-width="0.8"/>
<path d="M580.2 824.8L584.6 829.2M584.6 824.8L580.2 829.2" stroke="#3d3d3d" stroke-width="0.7"/>
<rect x="467.0" y="829.0" width="86.0" height="15.0" fill="#ffffff" stroke="#3d3d3d" stroke-width="1"/>
<rect x="474.0" y="835.0" width="35.0" height="11.0" fill="#ffffff" rx="4" stroke="#3d3d3d" stroke-width="1"/>
<rect x="512.4" y="835.0" width="35.6" height="11.0" fill="#ffffff" rx="4" stroke="#3d3d3d" stroke-width="1"/>
<rect x="466.0" y="822.0" width="89.6" height="7.4" fill="#9b9b9b" rx="2.5" stroke="#3d3d3d" stroke-width="1"/>
<rect x="469.0" y="861.0" width="83.4" height="70.0" fill="#9b9b9b" stroke="#3d3d3d" stroke-width="1"/>
<rect x="466.4" y="844.0" width="88.6" height="17.0" fill="#9b9b9b" rx="2" stroke="#3d3d3d" stroke-width="1"/>
<rect x="466.4" y="931.0" width="88.6" height="7.6" fill="#9b9b9b" rx="2" stroke="#3d3d3d" stroke-width="1"/>
<rect x="618.0" y="843.2" width="31.0" height="76.6" fill="#474b5e" stroke="#30343f" stroke-width="1"/>
<rect x="728.2" y="843.2" width="30.5" height="76.6" fill="#474b5e" stroke="#30343f" stroke-width="1"/>
<rect x="650.4" y="923.3" width="76.5" height="30.7" fill="#474b5e" stroke="#30343f" stroke-width="1"/>
<rect x="653.4" y="926.3" width="70.5" height="24.7" fill="none" rx="3" stroke="#33374a" stroke-width="1"/>
<rect x="621.2" y="821.2" width="25.6" height="19.4" fill="#ffffff" rx="3" stroke="#3d3d3d" stroke-width="1"/>
<circle cx="627.4" cy="825.7" r="9.4" fill="#9b9b9b" stroke="#3d3d3d" stroke-width="1"/>
<circle cx="627.4" cy="825.7" r="3.2" fill="none" stroke="#3d3d3d" stroke-width="0.8"/>
<path d="M625.2 823.5L629.6 827.9M629.6 823.5L625.2 827.9" stroke="#3d3d3d" stroke-width="0.7"/>
<rect x="730.5" y="821.2" width="25.2" height="19.4" fill="#ffffff" rx="3" stroke="#3d3d3d" stroke-width="1"/>
<circle cx="749.4" cy="825.7" r="9.4" fill="#9b9b9b" stroke="#3d3d3d" stroke-width="1"/>
<circle cx="749.4" cy="825.7" r="3.2" fill="none" stroke="#3d3d3d" stroke-width="0.8"/>
<path d="M747.2 823.5L751.6 827.9M751.6 823.5L747.2 827.9" stroke="#3d3d3d" stroke-width="0.7"/>
<rect x="651.3" y="827.0" width="73.8" height="14.0" fill="#ffffff" stroke="#3d3d3d" stroke-width="1"/>
<rect x="657.2" y="832.0" width="29.2" height="11.0" fill="#ffffff" rx="4" stroke="#3d3d3d" stroke-width="1"/>
<rect x="690.0" y="832.0" width="29.7" height="11.0" fill="#ffffff" rx="4" stroke="#3d3d3d" stroke-width="1"/>
<rect x="649.5" y="820.8" width="77.9" height="6.7" fill="#9b9b9b" rx="2.5" stroke="#3d3d3d" stroke-width="1"/>
<rect x="652.2" y="854.0" width="72.3" height="59.0" fill="#9b9b9b" stroke="#3d3d3d" stroke-width="1"/>
<rect x="650.0" y="839.6" width="76.9" height="14.4" fill="#9b9b9b" rx="2" stroke="#3d3d3d" stroke-width="1"/>
<rect x="650.4" y="913.0" width="76.5" height="7.2" fill="#9b9b9b" rx="2" stroke="#3d3d3d" stroke-width="1"/></svg>
</body></html>
